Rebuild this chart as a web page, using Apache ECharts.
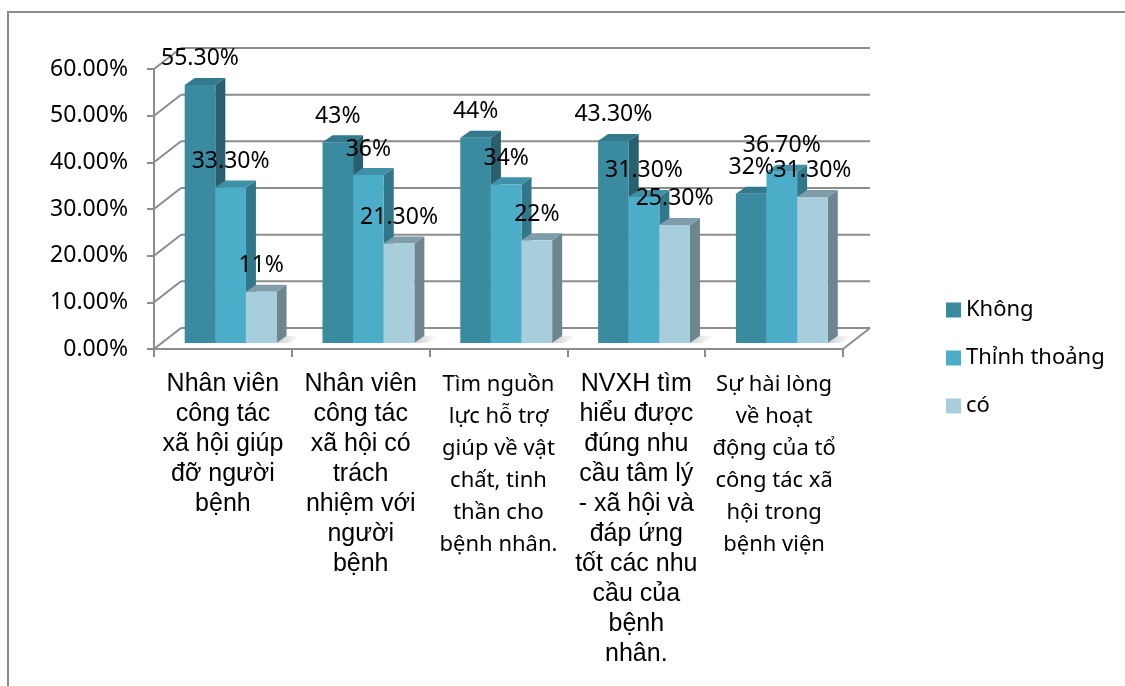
<!DOCTYPE html>
<html>
<head>
<meta charset="utf-8">
<script src="https://cdn.jsdelivr.net/npm/echarts@6/dist/echarts.min.js"></script>
<style>
  html, body { margin: 0; padding: 0; background: #ffffff; }
  #chart { width: 1125px; height: 686px; }
</style>
</head>
<body>
<div id="chart"></div>
<script>
// Survey categories (line breaks as they wrap under the axis)
const categories = [
  'Nhân viên\ncông tác\nxã hội giúp\nđỡ người\nbệnh',
  'Nhân viên\ncông tác\nxã hội có\ntrách\nnhiệm với\nngười\nbệnh',
  'Tìm nguồn\nlực hỗ trợ\ngiúp về vật\nchất, tinh\nthần cho\nbệnh nhân.',
  'NVXH tìm\nhiểu được\nđúng nhu\ncầu tâm lý\n- xã hội và\nđáp ứng\ntốt các nhu\ncầu của\nbệnh\nnhân.',
  'Sự hài lòng\nvề hoạt\nđộng của tổ\ncông tác xã\nhội trong\nbệnh viện'
];
const seriesNames = ['Không', 'Thỉnh thoảng', 'có'];
const khong = [55.3, 43, 44, 43.3, 32];
const thinhThoang = [33.3, 36, 34, 31.3, 36.7];
const co = [11, 21.3, 22, 25.3, 31.3];
const yTicks = [0, 10, 20, 30, 40, 50, 60];

// Which categories are set in the sans (Arial-like) face vs. the humanist one
const labelFace = ['a', 'a', 'c', 'a', 'c'];

// 3D look: offset of the back wall from the front plane, bar placement in depth
const WALL = [27, -21];
const BAR_FRONT = 0.286;
const BAR_DEPTH = [10, -7];
const GRID_COLOR = '#8c8c8c';
const palette = [
  { front: '#3A8BA0', top: '#33798C', side: '#28606F' },
  { front: '#4BADC7', top: '#3E91A7', side: '#31778A' },
  { front: '#A8CEDD', top: '#7F9DA8', side: '#6C858F' }
];

function fmtPct(v) {
  return Number.isInteger(v) ? v + '%' : v.toFixed(2) + '%';
}

function seg(x1, y1, x2, y2) {
  return { type: 'line', shape: { x1: x1, y1: y1, x2: x2, y2: y2 },
           style: { stroke: GRID_COLOR, lineWidth: 2 } };
}

// Side wall, back wall gridlines and floor edge
function wallRenderer(params, api) {
  const cs = params.coordSys;
  const v = api.value(1);
  const y = api.coord([0, v])[1];
  const xl = cs.x, xr = cs.x + cs.width;
  const children = [
    seg(xl, y, xl + WALL[0], y + WALL[1]),
    seg(xl + WALL[0], y + WALL[1], xr + WALL[0], y + WALL[1])
  ];
  if (v === 0) {
    children.push(seg(xr, y, xr + WALL[0], y + WALL[1]));
  }
  return { type: 'group', children: children };
}

function barGeom(api, cat, val, k) {
  const w = api.size([1, 0])[0] / 4.5;
  const cx = api.coord([cat, 0])[0];
  const ox = WALL[0] * BAR_FRONT, oy = WALL[1] * BAR_FRONT;
  const x0 = cx - 1.5 * w + k * w + ox;
  return {
    x0: x0, x1: x0 + w, w: w,
    yb: api.coord([cat, 0])[1] + oy,
    yt: api.coord([cat, val])[1] + oy
  };
}

function barRenderer(k) {
  return function (params, api) {
    const g = barGeom(api, api.value(0), api.value(1), k);
    const dx = BAR_DEPTH[0], dy = BAR_DEPTH[1];
    const c = palette[k];
    const children = [
      { type: 'polygon',
        shape: { points: [[g.x1, g.yb], [g.x1 + dx, g.yb + dy], [g.x1 + dx, g.yt + dy], [g.x1, g.yt]] },
        style: { fill: c.side } },
      { type: 'polygon',
        shape: { points: [[g.x0, g.yt], [g.x1, g.yt], [g.x1 + dx, g.yt + dy], [g.x0 + dx, g.yt + dy]] },
        style: { fill: c.top } },
      { type: 'rect',
        shape: { x: g.x0, y: g.yt, width: g.w, height: g.yb - g.yt },
        style: { fill: c.front } }
    ];
    if (k === 2) {
      // soft floor shadow to the right of each bar group
      children.unshift({
        type: 'polygon',
        shape: { points: [[g.x1, g.yb], [g.x1 + dx, g.yb + dy], [g.x1 + dx + 14, g.yb + dy], [g.x1 + 12, g.yb]] },
        style: { fill: new echarts.graphic.LinearGradient(0, 0, 1, 0, [
          { offset: 0, color: 'rgba(120,120,120,0.35)' },
          { offset: 1, color: 'rgba(120,120,120,0)' }
        ]) }
      });
    }
    return { type: 'group', children: children };
  };
}

function labelRenderer(params, api) {
  const cat = api.value(0), val = api.value(1), k = api.value(2);
  const g = barGeom(api, cat, val, k);
  return {
    type: 'text',
    style: {
      text: fmtPct(val),
      x: (g.x0 + g.x1) / 2,
      y: g.yt - 26,
      align: 'center', verticalAlign: 'middle',
      textAlign: 'center', textVerticalAlign: 'middle',
      fontFamily: 'Noto Sans', fontSize: 23,
      fill: '#000000'
    }
  };
}

const seriesValues = [khong, thinhThoang, co];
const labelData = [];
seriesValues.forEach(function (arr, k) {
  arr.forEach(function (v, i) { labelData.push([i, v, k]); });
});

const chart = echarts.init(document.getElementById('chart'), null, { renderer: 'canvas' });

const option = {
  animation: false,
  backgroundColor: '#ffffff',
  graphic: [{
    type: 'rect',
    shape: { x: 8, y: 12, width: 1300, height: 900 },
    style: { fill: 'none', stroke: '#8a8a8a', lineWidth: 2 },
    silent: true
  }],
  grid: { left: 154, right: 282, top: 69, bottom: 337, containLabel: false },
  legend: {
    orient: 'vertical',
    left: 941, top: 293,
    itemWidth: 15, itemHeight: 15, itemGap: 24,
    icon: 'rect',
    data: seriesNames,
    textStyle: { fontFamily: 'Noto Sans', fontSize: 22, lineHeight: 24, color: '#000000' }
  },
  xAxis: {
    type: 'category',
    data: categories,
    axisLine: { show: true, lineStyle: { color: GRID_COLOR, width: 2 } },
    axisTick: { show: true, length: 8, lineStyle: { color: GRID_COLOR, width: 2 } },
    splitLine: { show: false },
    axisLabel: {
      interval: 0,
      margin: 20,
      color: '#000000',
      formatter: function (value, idx) {
        return '{' + labelFace[idx] + '|' + value + '}';
      },
      rich: {
        a: { fontFamily: 'Liberation Sans', fontSize: 25, lineHeight: 30, color: '#000000', align: 'center' },
        c: { fontFamily: 'Noto Sans', fontSize: 22, lineHeight: 32, color: '#000000', align: 'center' }
      }
    }
  },
  yAxis: {
    type: 'value',
    min: 0, max: 60, interval: 10,
    axisLine: { show: true, lineStyle: { color: GRID_COLOR, width: 2 } },
    axisTick: { show: true, length: 7, lineStyle: { color: GRID_COLOR, width: 2 } },
    splitLine: { show: false },
    axisLabel: {
      margin: 26,
      color: '#000000',
      fontFamily: 'Noto Sans',
      fontSize: 23,
      formatter: function (v) { return v.toFixed(2) + '%'; }
    }
  },
  series: [
    {
      type: 'custom', name: 'walls', z: 1, silent: true,
      renderItem: wallRenderer,
      data: yTicks.map(function (v) { return [0, v]; })
    },
    {
      type: 'custom', name: seriesNames[0], z: 2,
      itemStyle: { color: palette[0].front },
      renderItem: barRenderer(0),
      data: khong.map(function (v, i) { return [i, v]; })
    },
    {
      type: 'custom', name: seriesNames[1], z: 2,
      itemStyle: { color: palette[1].front },
      renderItem: barRenderer(1),
      data: thinhThoang.map(function (v, i) { return [i, v]; })
    },
    {
      type: 'custom', name: seriesNames[2], z: 2,
      itemStyle: { color: palette[2].front },
      renderItem: barRenderer(2),
      data: co.map(function (v, i) { return [i, v]; })
    },
    {
      type: 'custom', name: 'values', z: 5, silent: true,
      renderItem: labelRenderer,
      data: labelData
    }
  ]
};

chart.setOption(option);
</script>
</body>
</html>
